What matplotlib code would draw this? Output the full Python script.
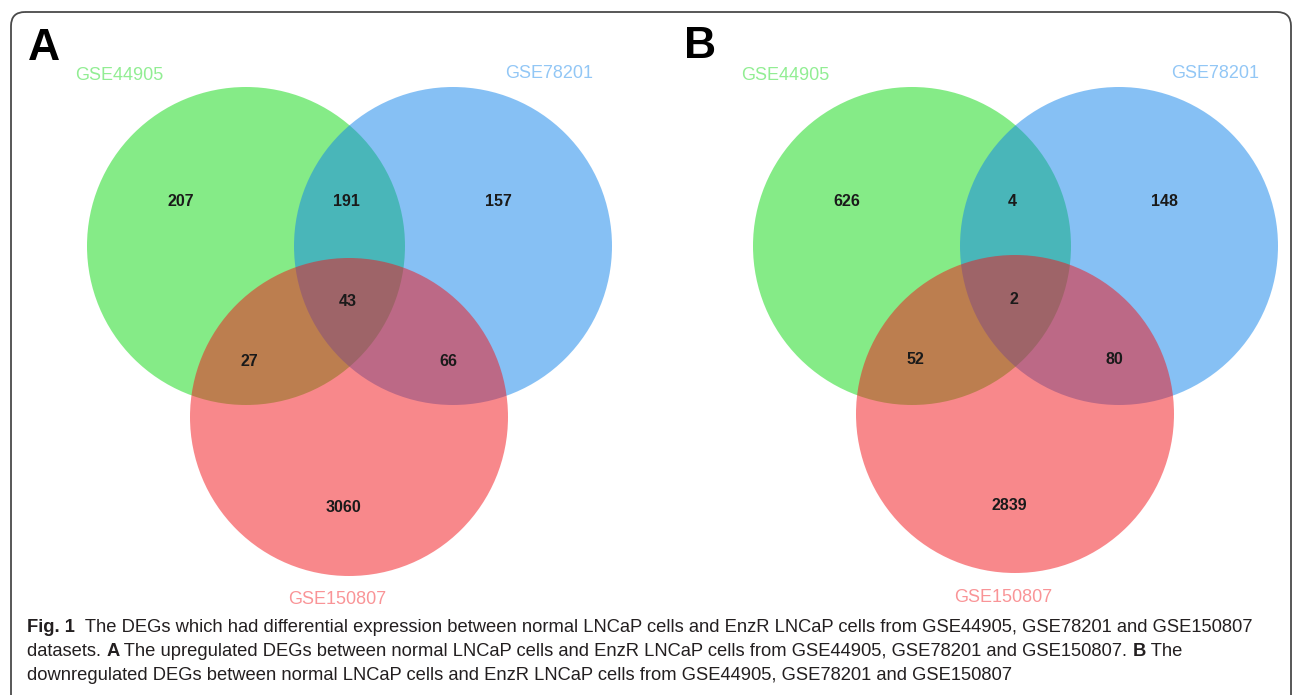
import matplotlib
matplotlib.use("Agg")
import matplotlib.pyplot as plt
from matplotlib.patches import Circle, FancyBboxPatch
from matplotlib import font_manager

# ---- data -------------------------------------------------------------
set_names = ["GSE44905", "GSE78201", "GSE150807"]
panel_letters = ["A", "B"]
# region counts: only G, G&B, only B, all three, G&R, B&R, only R
up_counts = {"g": 207, "gb": 191, "b": 157, "gbr": 43, "gr": 27, "br": 66, "r": 3060}
down_counts = {"g": 626, "gb": 4, "b": 148, "gbr": 2, "gr": 52, "br": 80, "r": 2839}
set_colors = ["#0DD911", "#0F83EB", "#F31319"]

caption_lines = [
    [("Fig. 1", True), ("  The DEGs which had differential expression between normal LNCaP cells and EnzR LNCaP cells from GSE44905, GSE78201 and GSE150807", False)],
    [("datasets. ", False), ("A", True), (" The upregulated DEGs between normal LNCaP cells and EnzR LNCaP cells from GSE44905, GSE78201 and GSE150807. ", False), ("B", True), (" The", False)],
    [("downregulated DEGs between normal LNCaP cells and EnzR LNCaP cells from GSE44905, GSE78201 and GSE150807", False)],
]

# ---- layout -----------------------------------------------------------
W, H = 1293, 695
fig = plt.figure(figsize=(W / 100, H / 100), dpi=100)
ax = fig.add_axes([0, 0, 1, 1])
ax.set_xlim(0, W)
ax.set_ylim(H, 0)
ax.axis("off")

available = {f.name for f in font_manager.fontManager.ttflist}
main_font = "Liberation Sans" if "Liberation Sans" in available else "DejaVu Sans"
cap_font = "Liberation Sans Narrow" if "Liberation Sans Narrow" in available else main_font

# outer frame (open at the bottom edge of the image)
frame = FancyBboxPatch((11, 12), 1280, 740, boxstyle="round,pad=0,rounding_size=14",
                       fill=False, edgecolor="#4a4a4a", linewidth=1.3, zorder=0)
ax.add_patch(frame)

R = 159
panels = [
    dict(letter=(28, 48), centers=[(246, 246), (453, 246), (349, 417)], counts=up_counts),
    dict(letter=(684, 47), centers=[(912, 246), (1119, 246), (1015, 414)], counts=down_counts),
]

label_offsets = [(-127, -171), (96, -172), (-12, 183)]

for p, letter in zip(panels, panel_letters):
    cg, cb, cr = p["centers"]
    for (cx, cy), col in zip(p["centers"], set_colors):
        ax.add_patch(Circle((cx, cy), R, facecolor=col, alpha=0.5, edgecolor="none", zorder=1))
    ax.text(p["letter"][0], p["letter"][1], letter, fontsize=32, fontweight="bold",
            family=main_font, ha="left", va="center", color="black", zorder=5)
    # set names
    for (dx, dy), name, col, base in zip(label_offsets, set_names, set_colors, p["centers"]):
        ax.text(base[0] + dx, base[1] + dy, name, fontsize=13, family=main_font,
                color=col, alpha=0.45, ha="center", va="center", zorder=5)
    # region counts
    gx, gy = cg
    bx, by = cb
    rx, ry = cr
    pos = {
        "g": (gx - 65, gy - 44),
        "gb": ((gx + bx) / 2 - 3, gy - 44),
        "b": (bx + 45, by - 44),
        "gbr": (rx - 1, ry - 115),
        "gr": (rx - 100, ry - 55),
        "br": (rx + 99, ry - 55),
        "r": (rx - 6, ry + 91),
    }
    for key, val in p["counts"].items():
        x, y = pos[key]
        ax.text(x, y, str(val), fontsize=11.5, fontweight="bold", family=main_font,
                color="#1a1a1a", ha="center", va="center", zorder=5)

# ---- caption with mixed bold / regular runs ----------------------------
fig.canvas.draw()
renderer = fig.canvas.get_renderer()
cap_size = 13.2
line_y = [627, 651, 675]
for segs, y in zip(caption_lines, line_y):
    x = 27
    for txt, bold in segs:
        t = ax.text(x, y, txt, fontsize=cap_size, family=cap_font,
                    fontweight="bold" if bold else "normal", color="#231f20",
                    ha="left", va="center", zorder=5)
        bb = t.get_window_extent(renderer)
        x += bb.width

fig.savefig("out.png", dpi=100)
